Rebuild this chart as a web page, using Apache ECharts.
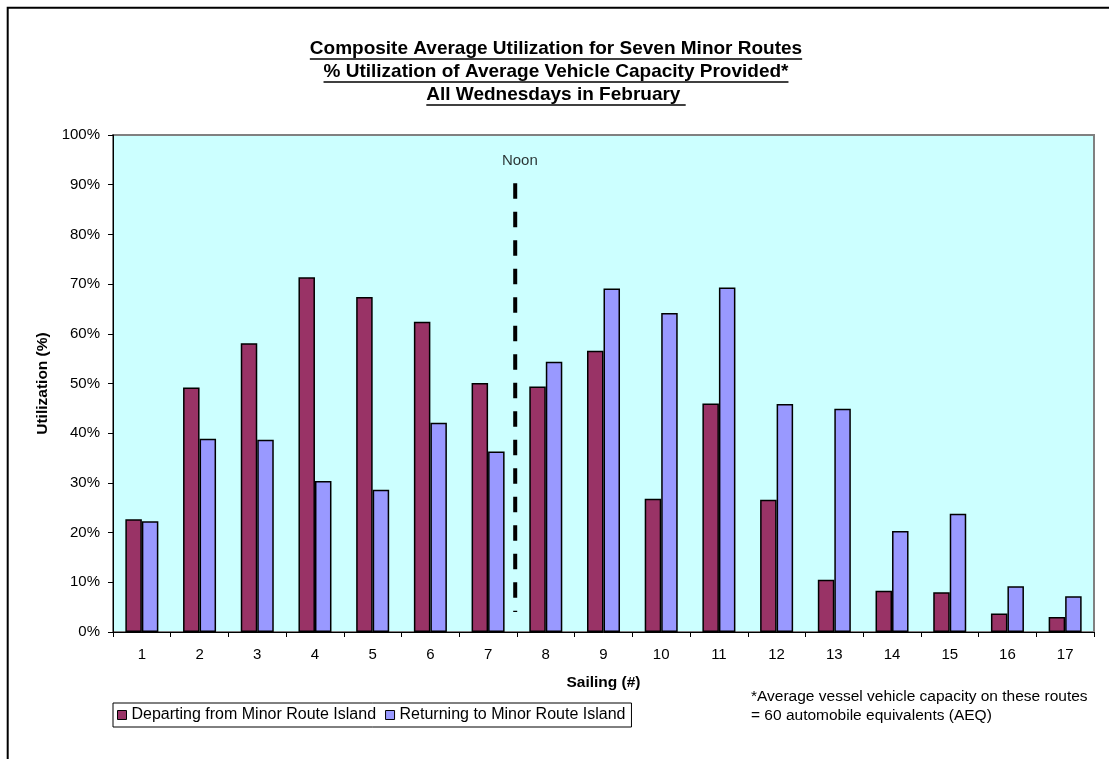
<!DOCTYPE html>
<html>
<head>
<meta charset="utf-8">
<style>
  html, body { margin: 0; padding: 0; background: #ffffff; }
  #chart { width: 1109px; height: 759px; }
</style>
<script src="https://cdn.jsdelivr.net/npm/echarts@6/dist/echarts.min.js"></script>
</head>
<body>
<div id="chart"></div>
<script>
// Sailing numbers (category axis)
const sailings = ['1','2','3','4','5','6','7','8','9','10','11','12','13','14','15','16','17'];

// % utilization of average vehicle capacity, per sailing
const departing = [22.7, 49.2, 58.1, 71.4, 67.4, 62.4, 50.1, 49.4, 56.6, 26.8, 46.0, 26.6, 10.5, 8.3, 8.0, 3.7, 3.0];
const returning = [22.3, 38.9, 38.7, 30.4, 28.6, 42.1, 36.3, 54.4, 69.1, 64.2, 69.3, 45.9, 44.9, 20.3, 23.8, 9.2, 7.2];

// Noon marker: boundary after sailing 7, drawn from 90% down to 4%
const noonAt = 6.97;
const noonSpan = [90.3, 4.0];
const noonLabel = { x: 7.05, y: 94.8, text: 'Noon' };

const yTicks = { min: 0, max: 100, interval: 10 };

const titleLines = [
  'Composite Average Utilization for Seven Minor Routes',
  '% Utilization of Average Vehicle Capacity Provided*',
  'All Wednesdays in February '
];
const footnote = '*Average vessel vehicle capacity on these routes\n= 60 automobile equivalents (AEQ)';

const FONT = '"Liberation Sans", Arial, sans-serif';
const TITLE_SIZE = 19;
const TITLE_CX = 556;
const TITLE_TOP = 39;
const TITLE_STEP = 23;

const chart = echarts.init(document.getElementById('chart'), null, { renderer: 'canvas' });

// Title text plus an underline sized to each line
const measure = document.createElement('canvas').getContext('2d');
measure.font = 'bold ' + TITLE_SIZE + 'px ' + FONT;
const titleGraphics = [];
titleLines.forEach((t, i) => {
  const top = TITLE_TOP + i * TITLE_STEP;
  const w = measure.measureText(t).width;
  titleGraphics.push({
    type: 'text', x: TITLE_CX, y: top, silent: true,
    style: {
      text: t, fontFamily: FONT, fontSize: TITLE_SIZE, fontWeight: 'bold', fill: '#000',
      textAlign: 'center', textVerticalAlign: 'top'
    }
  });
  titleGraphics.push({
    type: 'line', silent: true,
    shape: { x1: TITLE_CX - w / 2, y1: top + 20, x2: TITLE_CX + w / 2, y2: top + 20 },
    style: { stroke: '#000', lineWidth: 1.6 }
  });
});

chart.setOption({
  backgroundColor: '#ffffff',
  animation: false,
  grid: {
    left: 113, right: 15, top: 135, bottom: 127,
    show: true,
    backgroundColor: '#CCFFFF',
    borderColor: '#808080',
    borderWidth: 2
  },
  xAxis: [
    {
      type: 'category',
      data: sailings,
      name: 'Sailing (#)',
      nameLocation: 'middle',
      nameGap: 43,
      nameTextStyle: { fontFamily: FONT, fontSize: 15.5, fontWeight: 'bold', color: '#000' },
      axisLine: { lineStyle: { color: '#000', width: 1 } },
      axisTick: { show: true, length: 5, lineStyle: { color: '#000' } },
      axisLabel: { fontFamily: FONT, fontSize: 15, color: '#000', margin: 15 },
      splitLine: { show: false }
    },
    {
      type: 'value',
      min: 0, max: sailings.length,
      show: false
    }
  ],
  yAxis: {
    type: 'value',
    min: yTicks.min, max: yTicks.max, interval: yTicks.interval,
    name: 'Utilization (%)',
    nameLocation: 'middle',
    nameGap: 62,
    nameTextStyle: { fontFamily: FONT, fontSize: 15.5, fontWeight: 'bold', color: '#000' },
    axisLine: { show: true, lineStyle: { color: '#000', width: 1 } },
    axisTick: { show: true, length: 5, lineStyle: { color: '#000' } },
    axisLabel: { fontFamily: FONT, fontSize: 15, color: '#000', margin: 13, formatter: '{value}%' },
    splitLine: { show: false }
  },
  legend: {
    left: 113, top: 703,
    orient: 'horizontal',
    itemWidth: 9, itemHeight: 9, itemGap: 9,
    padding: [4, 6, 4, 4],
    borderColor: '#000', borderWidth: 1,
    icon: 'rect',
    textStyle: { fontFamily: FONT, fontSize: 16, color: '#000' },
    data: [
      { name: 'Departing from Minor Route Island', itemStyle: { borderColor: '#000', borderWidth: 1 } },
      { name: 'Returning to Minor Route Island', itemStyle: { borderColor: '#000', borderWidth: 1 } }
    ]
  },
  series: [
    {
      name: 'Departing from Minor Route Island',
      type: 'bar',
      data: departing,
      barWidth: '28.6%',
      barGap: '0%',
      itemStyle: { color: '#993366', borderColor: '#000', borderWidth: 1.5 }
    },
    {
      name: 'Returning to Minor Route Island',
      type: 'bar',
      data: returning,
      barWidth: '28.6%',
      barGap: '0%',
      itemStyle: { color: '#9999FF', borderColor: '#000', borderWidth: 1.5 }
    },
    {
      name: 'noon',
      type: 'line',
      xAxisIndex: 1,
      data: [[noonAt, noonSpan[0]], [noonAt, noonSpan[1]]],
      symbol: 'none',
      silent: true,
      lineStyle: { color: '#000', width: 4, type: [15.5, 13], cap: 'butt' },
      z: 5
    },
    {
      name: 'noonLabel',
      type: 'scatter',
      xAxisIndex: 1,
      data: [[noonLabel.x, noonLabel.y]],
      symbolSize: 0,
      silent: true,
      label: {
        show: true, position: 'inside', formatter: noonLabel.text,
        fontFamily: FONT, fontSize: 15, color: '#000'
      }
    }
  ],
  graphic: [
    // Chart-area frame (runs past the right and bottom edges)
    {
      type: 'rect', silent: true,
      shape: { x: 7.7, y: 7.7, width: 1130, height: 790 },
      style: { fill: 'none', stroke: '#000', lineWidth: 2 }
    },
    {
      type: 'text', left: 751, top: 687.5, silent: true,
      style: {
        text: footnote, fontFamily: FONT, fontSize: 15.5, fill: '#000', lineHeight: 18.5
      }
    }
  ].concat(titleGraphics)
});
</script>
</body>
</html>
